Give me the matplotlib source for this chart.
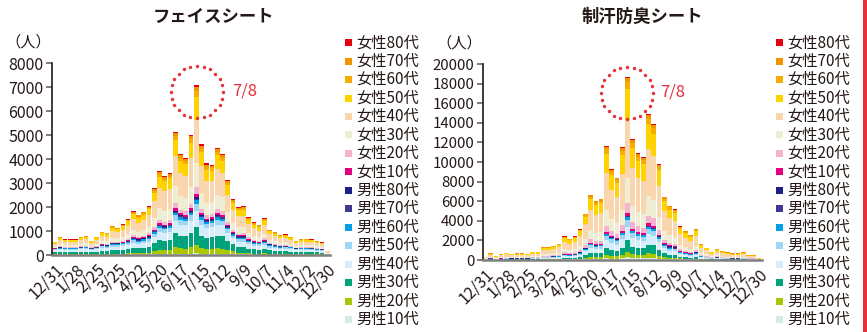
# -*- coding: utf-8 -*-
import numpy as np
import matplotlib
matplotlib.use("Agg")
import matplotlib.pyplot as plt
from matplotlib.patches import Rectangle

plt.rcParams['font.family'] = ['Noto Sans CJK JP', 'DejaVu Sans']

# 週ラベル（4週ごと）
weeks = np.arange(53)
tick_labels = ['12/31', '1/28', '2/25', '3/25', '4/22', '5/20', '6/17', '7/15',
               '8/12', '9/9', '10/7', '11/4', '12/2', '12/30']

series_labels = ['男性10代', '男性20代', '男性30代', '男性40代', '男性50代', '男性60代',
                 '男性70代', '男性80代', '女性10代', '女性20代', '女性30代', '女性40代',
                 '女性50代', '女性60代', '女性70代', '女性80代']
series_colors = ['#d6ebdf', '#a9c802', '#00a37b', '#d6edfa', '#9fd6f3', '#00a0e8',
                 '#3d3a90', '#1d2087', '#e3007e', '#f4b4cf', '#efedd3', '#f9d6ae',
                 '#ffd300', '#f6ac00', '#f29600', '#e50012']

# ---- フェイスシート ----
face_m10 = [10,10,10,10,10,10,10,10,10,20,20,20,20,20,20,30,30,30,30,30,40,40,40,60,50,50,60,70,50,40,50,50,50,40,30,30,30,30,20,20,20,20,20,20,20,10,10,10,10,10,10,10,10]
face_m20 = [20,30,20,20,20,30,30,20,30,30,30,40,40,40,50,60,50,60,60,140,170,170,170,260,230,220,260,340,230,200,210,230,220,170,130,60,60,50,40,40,50,40,30,30,30,30,20,20,20,20,20,20,0]
face_m30 = [80,100,90,90,90,100,100,90,100,130,120,150,140,160,180,220,200,210,230,320,400,380,400,590,530,510,590,770,530,460,480,530,510,380,290,230,230,190,170,160,180,130,120,110,110,100,80,90,90,90,80,70,10]
face_m40 = [80,90,90,90,90,90,100,80,90,120,110,140,140,150,170,200,180,190,220,280,350,340,350,520,460,450,520,670,460,410,420,460,450,340,250,220,220,180,160,150,170,120,120,100,110,100,80,90,90,80,70,70,10]
face_m50 = [40,40,40,40,40,50,50,40,50,60,60,70,70,70,80,100,90,100,110,120,150,140,150,220,200,190,220,290,200,170,180,200,190,140,110,110,110,90,80,70,80,60,60,50,50,50,40,40,40,40,40,30,10]
face_m60 = [20,30,30,30,30,30,30,30,30,30,30,40,40,40,50,60,50,60,60,60,80,70,80,110,100,100,110,140,100,90,90,100,100,70,50,60,60,50,40,40,50,40,30,30,30,30,30,30,30,30,20,20,0]
face_m70 = [10,10,10,10,10,10,10,10,10,20,20,20,20,30,30,30,40,30,40,30,40,40,40,50,50,50,50,70,50,50,40,50,50,40,30,40,40,30,30,30,30,20,20,20,20,10,10,10,10,10,10,10,0]
face_m80 = [10,10,10,10,10,10,10,10,10,10,10,20,10,10,20,20,20,20,30,20,20,20,20,40,30,30,40,50,30,30,30,30,30,20,10,30,30,20,20,10,20,10,10,10,10,10,10,10,10,10,10,10,0]
face_f10 = [10,10,10,10,10,10,10,10,10,20,20,20,20,20,30,30,30,30,40,50,70,60,70,100,80,70,90,140,90,70,70,80,80,60,40,40,40,30,20,20,30,20,20,10,10,10,10,10,10,10,10,10,0]
face_f20 = [20,30,20,20,20,30,30,20,30,30,30,40,40,50,50,70,60,70,80,110,140,130,130,200,150,150,190,280,180,140,140,170,160,110,90,70,80,60,50,40,60,40,30,30,30,30,20,20,20,20,20,20,10]
face_f30 = [60,90,80,80,80,90,100,70,90,120,120,160,150,170,200,240,220,240,280,390,500,460,480,720,560,540,700,1030,650,520,500,620,580,420,310,270,270,200,180,160,200,130,120,100,110,90,70,80,80,80,70,60,30]
face_f40 = [110,160,130,130,130,160,170,120,160,210,200,270,250,290,340,420,380,420,480,680,850,800,830,1250,970,930,1200,1790,1120,900,860,1070,990,730,540,460,470,350,300,280,350,230,200,180,180,160,120,140,140,140,120,110,80]
face_f50 = [60,80,70,70,70,90,90,60,90,110,100,140,130,150,180,220,200,220,250,360,450,420,440,660,510,490,630,940,590,470,450,560,520,380,290,240,250,190,160,150,190,120,110,90,100,80,60,70,80,70,60,60,20]
face_f60 = [10,20,20,20,20,20,20,10,20,30,30,40,30,40,40,60,50,60,60,90,110,110,110,160,130,120,160,240,150,120,110,140,130,100,70,60,60,50,40,40,50,30,30,20,20,20,20,20,20,20,20,10,0]
face_f70 = [10,20,10,10,10,20,20,10,20,20,20,30,30,30,30,50,50,50,50,70,90,80,80,130,100,100,130,190,120,100,90,120,110,80,60,50,50,40,30,30,40,20,20,20,20,20,10,10,10,10,10,10,0]
face_f80 = [10,10,10,10,10,10,10,10,10,10,10,10,10,10,20,20,20,20,20,30,40,40,40,70,50,50,60,90,60,50,40,60,50,30,30,20,30,10,20,10,10,10,10,10,10,10,10,10,10,10,10,10,0]

# ---- 制汗防臭シート ----
sweat_m10 = [10,20,10,20,20,20,20,20,20,20,20,30,30,40,40,60,60,60,80,70,100,90,90,160,140,130,170,270,180,160,160,210,200,140,100,140,130,90,80,60,80,40,30,20,30,20,20,20,20,20,10,10,10]
sweat_m20 = [10,10,10,10,20,10,10,10,10,20,20,30,30,30,30,50,40,50,60,150,220,200,200,350,300,270,360,590,390,350,340,460,430,310,210,110,100,70,60,50,60,30,30,20,20,20,20,10,10,20,10,10,0]
sweat_m30 = [20,30,20,30,40,30,30,30,30,40,40,60,60,70,80,120,110,120,160,310,430,390,410,700,600,550,730,1180,780,700,680,910,860,620,420,280,260,170,150,130,160,80,60,40,60,50,40,30,30,40,20,20,10]
sweat_m40 = [30,50,30,40,60,50,50,50,50,60,60,100,100,110,130,180,160,180,230,350,500,450,470,810,690,630,840,1360,900,810,780,1050,990,720,480,420,390,260,220,190,240,120,100,60,80,70,60,50,50,60,40,40,20]
sweat_m50 = [10,30,20,20,30,20,30,30,20,30,30,50,50,60,60,90,80,90,120,190,270,240,250,430,370,330,450,730,480,430,410,560,530,390,250,210,200,130,110,100,120,60,50,30,40,30,30,30,30,30,20,20,10]
sweat_m60 = [10,10,10,10,10,10,10,10,10,20,20,20,20,30,30,40,40,40,50,70,100,90,90,160,140,130,170,270,180,160,160,210,200,140,100,100,90,60,50,50,50,30,20,20,20,20,10,10,10,10,10,10,0]
sweat_m70 = [0,10,10,10,10,10,10,10,10,10,10,20,20,20,30,40,40,40,50,20,30,30,30,60,40,40,50,90,60,60,50,70,60,50,30,80,80,50,50,40,50,20,20,10,20,10,10,10,10,10,10,10,0]
sweat_m80 = [0,10,0,10,0,10,10,10,10,10,10,10,10,10,20,20,20,20,30,20,20,10,20,30,20,20,30,50,30,30,20,30,30,30,10,60,50,30,30,20,30,20,10,10,10,10,10,10,10,10,0,0,0]
sweat_f10 = [10,10,10,10,10,10,10,10,10,10,10,20,20,20,30,40,30,40,50,70,100,90,90,180,140,130,170,280,190,160,160,230,210,150,100,80,80,50,40,40,50,20,20,10,20,10,10,10,10,10,10,10,0]
sweat_f20 = [20,40,20,30,40,30,40,40,30,40,40,70,70,80,90,130,110,130,160,250,350,320,330,630,490,440,610,990,650,570,550,800,740,520,340,290,270,180,160,130,170,90,70,40,60,50,40,40,40,40,30,30,10]
sweat_f30 = [40,90,60,80,100,90,90,90,90,120,120,170,170,200,220,330,290,330,420,640,900,810,840,1610,1250,1130,1570,2550,1670,1480,1420,2040,1900,1330,870,740,700,460,400,340,420,220,170,120,150,120,100,90,90,100,60,60,20]
sweat_f40 = [100,210,140,190,240,210,210,210,210,270,270,410,410,460,520,760,690,760,990,1490,2090,1900,1960,3770,2920,2650,3650,5950,3910,3440,3310,4770,4430,3110,2040,1730,1630,1080,940,800,990,510,390,270,350,290,250,210,210,250,150,150,60]
sweat_f50 = [60,110,70,100,120,110,110,110,110,140,140,210,210,240,280,400,360,400,520,780,1100,990,1030,1970,1530,1390,1910,3120,2050,1800,1730,2500,2320,1630,1070,910,850,570,490,420,520,270,210,140,180,150,130,110,110,130,80,80,30]
sweat_f60 = [10,30,20,30,30,20,30,30,20,30,30,50,50,50,60,90,80,90,120,180,250,230,230,450,350,320,440,710,470,410,390,570,530,370,240,210,190,130,110,100,120,60,50,30,40,40,30,30,30,30,20,20,0]
sweat_f70 = [10,10,10,10,10,10,10,10,10,20,20,30,30,30,40,40,50,40,70,100,150,140,140,270,200,180,260,420,270,260,240,340,300,220,150,120,110,80,70,60,70,40,20,20,30,20,10,10,10,10,10,10,0]
sweat_f80 = [0,10,0,10,10,10,10,10,10,10,10,10,10,10,10,20,20,20,20,40,50,40,40,90,70,60,90,140,90,80,80,110,110,70,50,40,40,30,20,20,20,10,10,10,10,10,10,10,10,10,0,0,0]

face_series = [face_m10, face_m20, face_m30, face_m40, face_m50, face_m60, face_m70, face_m80,
               face_f10, face_f20, face_f30, face_f40, face_f50, face_f60, face_f70, face_f80]
sweat_series = [sweat_m10, sweat_m20, sweat_m30, sweat_m40, sweat_m50, sweat_m60, sweat_m70, sweat_m80,
                sweat_f10, sweat_f20, sweat_f30, sweat_f40, sweat_f50, sweat_f60, sweat_f70, sweat_f80]

W, H = 867, 332
fig = plt.figure(figsize=(W / 100, H / 100), dpi=100)
text_color = '#231815'
red = '#e8303a'


def draw_stack(ax, series, ymax, ystep, fs):
    bottom = np.zeros(len(weeks))
    for vals, col in zip(series, series_colors):
        ax.bar(weeks, vals, width=0.88, bottom=bottom, color=col, linewidth=0)
        bottom += np.array(vals)
    ax.set_xlim(-0.5, 52.5)
    ax.set_ylim(0, ymax)
    ax.set_yticks(np.arange(0, ymax + 1, ystep))
    ax.set_xticks(weeks[::4])
    ax.set_xticklabels(tick_labels, rotation=45, ha='right', rotation_mode='anchor')
    ax.tick_params(axis='y', length=4, width=1.2, color='#666666', labelsize=fs,
                   labelcolor=text_color, pad=2)
    ax.tick_params(axis='x', length=0, labelsize=11.5, labelcolor=text_color, pad=4)
    for s in ['top', 'right']:
        ax.spines[s].set_visible(False)
    ax.spines['left'].set_color('#231815')
    ax.spines['left'].set_linewidth(1.2)
    ax.spines['bottom'].set_color('#808080')
    ax.spines['bottom'].set_linewidth(1.8)
    ax.set_facecolor('none')


ax1 = fig.add_axes([52 / W, 77 / H, 278 / W, 192 / H])
draw_stack(ax1, face_series, 8000, 1000, 11.5)
ax2 = fig.add_axes([482.7 / W, 72 / H, 279 / W, 196 / H])
draw_stack(ax2, sweat_series, 20000, 2000, 10.8)

# 上に重ねる注記用の座標系（ピクセル）
ov = fig.add_axes([0, 0, 1, 1])
ov.set_xlim(0, W)
ov.set_ylim(H, 0)
ov.axis('off')
ov.patch.set_alpha(0)

ov.text(214, 17, 'フェイスシート', ha='center', va='center', fontsize=12.5,
        fontweight='bold', color=text_color)
ov.text(642, 17, '制汗防臭シート', ha='center', va='center', fontsize=12.5,
        fontweight='bold', color=text_color)
ov.text(28, 42, '（人）', ha='center', va='center', fontsize=11, color=text_color)
ov.text(459, 43, '（人）', ha='center', va='center', fontsize=11, color=text_color)

# 7/8 のピーク（点線の丸）
ang = np.linspace(0, 2 * np.pi, 25)[:-1]
for cx, cy, tx in [(197, 92, 232), (627, 93, 660)]:
    ov.scatter(cx + 26 * np.cos(ang), cy + 26 * np.sin(ang), s=6, color=red,
               linewidths=0)
    ov.text(tx, cy - 1, '7/8', ha='left', va='center', fontsize=12, color=red)

# 凡例
for lx, tx in [(345, 356), (776, 787)]:
    for k in range(16):
        j = 15 - k
        y = 42.7 + 18.45 * k
        ov.add_patch(Rectangle((lx, y - 3.5), 7, 7, color=series_colors[j], linewidth=0))
        ov.text(tx, y, series_labels[j], ha='left', va='center', fontsize=11,
                color=text_color)

# 右端の赤い帯
ov.add_patch(Rectangle((863, 0), 4, H, color=red, linewidth=0))

fig.savefig('out.png', dpi=100)
